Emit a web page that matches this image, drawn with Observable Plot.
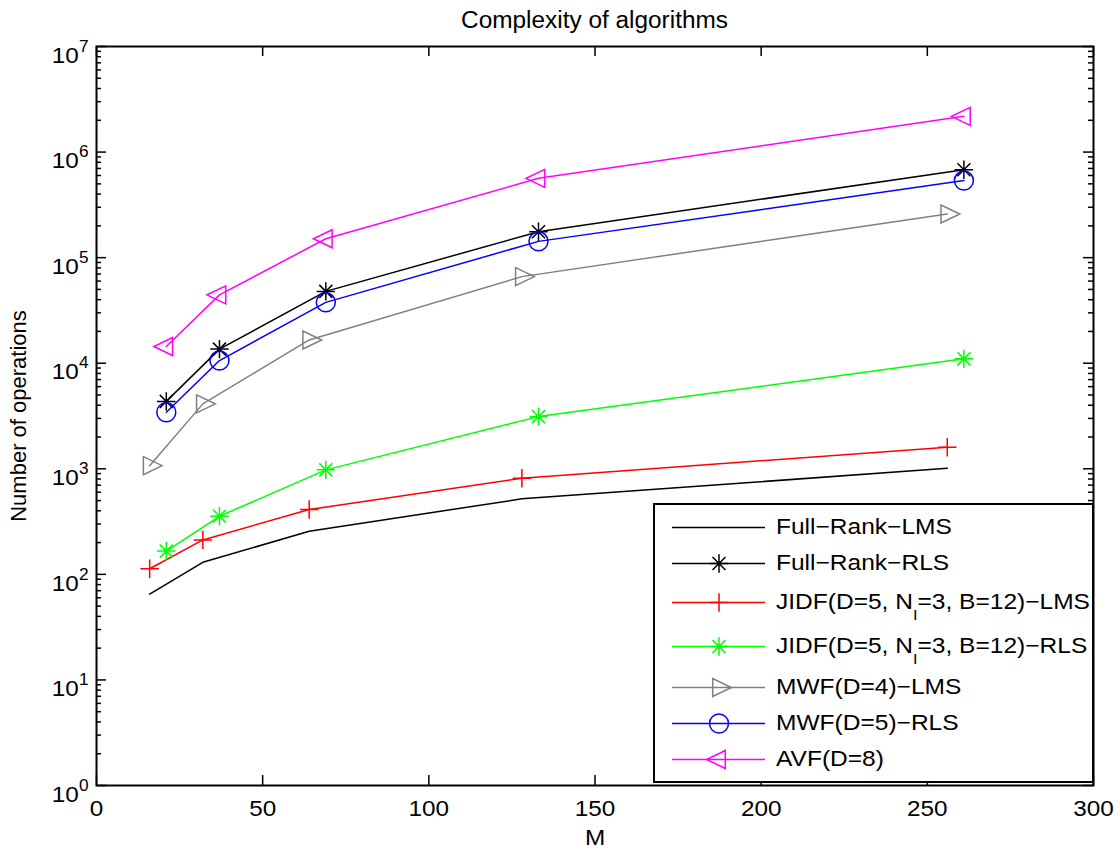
<!DOCTYPE html>
<html>
<head>
<meta charset="utf-8">
<script src="https://cdn.jsdelivr.net/npm/d3@7"></script>
<script src="https://cdn.jsdelivr.net/npm/@observablehq/plot@0.6"></script>
<style>
  html, body { margin: 0; padding: 0; background: #fff; }
  body { width: 1120px; height: 850px; position: relative; overflow: hidden; font-family: "Liberation Sans", Arial, Helvetica, sans-serif; }
  #title { position: absolute; left: 96px; top: 2px; width: 997px; height: 36px; line-height: 36px; text-align: center; font-size: 23px; color: #000; transform: scaleX(1.06); transform-origin: 50% 50%; }
  #chart { position: absolute; left: 0; top: 36px; }
  #legend { position: absolute; left: 653px; top: 503px; width: 441px; height: 280px; box-sizing: border-box; border: 2px solid #000; background: #fff; padding-top: 4px; }
  .row { display: flex; align-items: center; height: 36px; }
  .row.sub { height: 44px; align-items: flex-start; }
  .row.sub .swatch, .row.sub .lab { margin-top: 3px; }
  .swatch { margin-left: 17px; width: 93px; height: 36px; flex: none; }
  .lab { margin-left: 11px; font-size: 22.5px; line-height: 36px; height: 36px; white-space: nowrap; color: #000; transform: scaleX(1.09); transform-origin: 0 50%; }
  .lab sub { font-size: 15px; line-height: 0; vertical-align: -11px; }
</style>
</head>
<body>
<div id="title">Complexity of algorithms</div>
<div id="chart"></div>
<div id="legend"></div>
<script>
// ---- data ----
const M_base  = [16, 32, 64, 128, 256];
const M_shift = [21, 37, 69, 133, 261];
const fullRankLMS = [65, 130, 256, 519, 1010];
const fullRankRLS = [4350, 13600, 47900, 176000, 681000];
const jidfLMS     = [113, 212, 411, 813, 1600];
const jidfRLS     = [166, 355, 977, 3120, 11000];
const mwfLMS      = [1070, 4120, 16600, 66100, 259000];
const mwfRLS      = [3430, 10600, 37700, 142600, 537000];
const avfD8       = [14400, 44400, 151000, 564000, 2180000];
const seriesNames = [
  "Full−Rank−LMS",
  "Full−Rank−RLS",
  "JIDF(D=5, N_I=3, B=12)−LMS",
  "JIDF(D=5, N_I=3, B=12)−RLS",
  "MWF(D=4)−LMS",
  "MWF(D=5)−RLS",
  "AVF(D=8)"
];
const seriesX = [M_base, M_shift, M_base, M_shift, M_base, M_shift, M_shift];
const seriesY = [fullRankLMS, fullRankRLS, jidfLMS, jidfRLS, mwfLMS, mwfRLS, avfD8];
const xTickValues = [0, 50, 100, 150, 200, 250, 300];
const yExponents = [0, 1, 2, 3, 4, 5, 6, 7];

// ---- styles ----
const seriesStyle = [
  {color: "#000000", symbol: null},
  {color: "#000000", symbol: "star", r: 9.2},
  {color: "#ff0000", symbol: "plus", r: 9.2},
  {color: "#00ff00", symbol: "star", r: 9.2},
  {color: "#808080", symbol: "triRight", r: 9},
  {color: "#0000ff", symbol: "circle", r: 9.5},
  {color: "#ff00ff", symbol: "triLeft", r: 9}
];

// MATLAB-like marker shapes
const symbols = {
  star: {draw(c, size) {
    const r = Math.sqrt(size / Math.PI), d = r * Math.SQRT1_2;
    c.moveTo(-r, 0); c.lineTo(r, 0);
    c.moveTo(0, -r); c.lineTo(0, r);
    c.moveTo(-d, -d); c.lineTo(d, d);
    c.moveTo(-d, d); c.lineTo(d, -d);
  }},
  plus: {draw(c, size) {
    const r = Math.sqrt(size / Math.PI);
    c.moveTo(-r, 0); c.lineTo(r, 0);
    c.moveTo(0, -r); c.lineTo(0, r);
  }},
  triRight: {draw(c, size) {
    const r = Math.sqrt(size / Math.PI);
    c.moveTo(1.38 * r, 0); c.lineTo(-0.7 * r, r); c.lineTo(-0.7 * r, -r); c.closePath();
  }},
  triLeft: {draw(c, size) {
    const r = Math.sqrt(size / Math.PI);
    c.moveTo(-1.38 * r, 0); c.lineTo(0.7 * r, r); c.lineTo(0.7 * r, -r); c.closePath();
  }},
  circle: "circle"
};

const yMajor = yExponents.map(e => Math.pow(10, e));
const yMinor = [];
for (const e of yExponents.slice(0, -1)) for (let k = 2; k <= 9; k++) yMinor.push(k * Math.pow(10, e));

const W = 1120, H = 814, mL = 96, mR = 27, mT = 10, mB = 65;
const innerW = W - mL - mR, innerH = H - mT - mB;

const marks = [];
seriesNames.forEach((name, i) => {
  const rows = seriesX[i].map((m, j) => ({M: m, ops: seriesY[i][j], name}));
  const st = seriesStyle[i];
  marks.push(Plot.line(rows, {x: "M", y: "ops", stroke: st.color, strokeWidth: 1.5}));
  if (st.symbol) {
    marks.push(Plot.dot(rows, {x: "M", y: "ops", symbol: symbols[st.symbol], r: st.r,
      stroke: st.color, fill: "none", strokeWidth: 1.5}));
  }
});

const chart = Plot.plot({
  width: W, height: H,
  marginLeft: mL, marginRight: mR, marginTop: mT, marginBottom: mB,
  style: {fontFamily: '"Liberation Sans", Arial, sans-serif', fontSize: "22px", color: "#000", background: "#fff", overflow: "visible"},
  x: {domain: [0, 300]},
  y: {type: "log", domain: [1, 1e7]},
  marks: [
    ...marks,
    // inward tick marks on all four sides
    Plot.tickY(yMajor, {y: d => d, insetRight: innerW - 10, strokeWidth: 1.5}),
    Plot.tickY(yMinor, {y: d => d, insetRight: innerW - 5, strokeWidth: 1.5}),
    Plot.tickY(yMajor, {y: d => d, insetLeft: innerW - 10, strokeWidth: 1.5}),
    Plot.tickY(yMinor, {y: d => d, insetLeft: innerW - 5, strokeWidth: 1.5}),
    Plot.tickX(xTickValues, {x: d => d, insetTop: innerH - 10, strokeWidth: 1.5}),
    Plot.tickX(xTickValues, {x: d => d, insetBottom: innerH - 10, strokeWidth: 1.5}),
    Plot.axisX({ticks: xTickValues, tickSize: 0, tickPadding: 15, tickFormat: d => String(d),
      label: "M", labelAnchor: "center", labelArrow: "none", labelOffset: 59}),
    Plot.axisY({ticks: yMajor, tickSize: 0, tickPadding: 8, tickFormat: d => "10^" + Math.round(Math.log10(d)),
      label: "Number of operations", labelAnchor: "center", labelArrow: "none", labelOffset: 86}),
    Plot.frame({stroke: "#000", strokeWidth: 2})
  ]
});

// horizontal stretch helper for horizontal texts
function stretch(t, k) {
  const tr = t.getAttribute("transform");
  if (tr && /translate/.test(tr)) t.setAttribute("transform", tr + ` scale(${k},1)`);
  else {
    const x = +t.getAttribute("x") || 0;
    t.setAttribute("transform", `translate(${x},0) scale(${k},1) translate(${-x},0)`);
  }
}

// superscript exponents on the log axis labels
chart.querySelectorAll('g[aria-label="y-axis tick label"] text').forEach(t => {
  const s = t.textContent;
  const m = s.match(/^10\^(\d+)$/);
  if (!m) return;
  t.textContent = "10";
  const ts = document.createElementNS("http://www.w3.org/2000/svg", "tspan");
  ts.setAttribute("font-size", "16");
  ts.setAttribute("dy", "-11");
  ts.textContent = m[1];
  t.appendChild(ts);
  t.setAttribute("dy", "0.4em");
  t.setAttribute("font-size", "22.5");
  stretch(t, 1.08);
});
chart.querySelectorAll('g[aria-label="x-axis tick label"] text, g[aria-label="x-axis label"] text').forEach(t => {
  t.setAttribute("font-size", "22.5");
  stretch(t, 1.08);
});
document.getElementById("chart").appendChild(chart);

// ---- legend ----
const legend = document.getElementById("legend");
seriesNames.forEach((name, i) => {
  const st = seriesStyle[i];
  const row = document.createElement("div");
  const hasSub = /_/.test(name);
  row.className = "row" + (hasSub ? " sub" : "");
  const sw = document.createElement("div");
  sw.className = "swatch";
  const lm = [Plot.ruleY([0], {stroke: st.color, strokeWidth: 1.5})];
  if (st.symbol) lm.push(Plot.dot([0], {x: () => 0.5, y: () => 0, symbol: symbols[st.symbol], r: st.r,
    stroke: st.color, fill: "none", strokeWidth: 1.5}));
  sw.appendChild(Plot.plot({width: 93, height: 36, margin: 0, axis: null,
    x: {domain: [0, 1]}, y: {domain: [-1, 1]}, style: {overflow: "visible", background: "transparent"}, marks: lm}));
  const lab = document.createElement("div");
  lab.className = "lab";
  lab.innerHTML = name.replace(/_([A-Za-z0-9])/g, "<sub>$1</sub>");
  row.appendChild(sw); row.appendChild(lab);
  legend.appendChild(row);
});
</script>
</body>
</html>
